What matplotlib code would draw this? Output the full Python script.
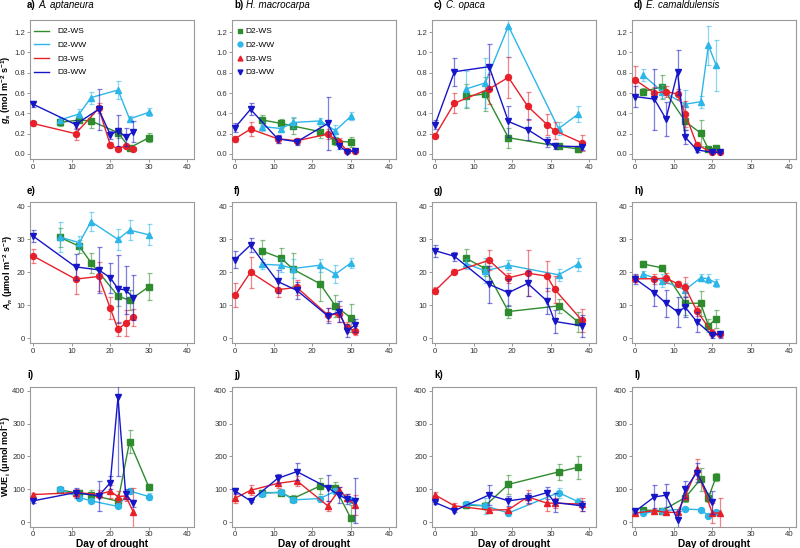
import numpy as np
import matplotlib
matplotlib.use("Agg")
import matplotlib.pyplot as plt
from matplotlib.lines import Line2D

plt.rcParams['font.family'] = ['Liberation Sans', 'DejaVu Sans']
plt.rcParams['mathtext.fontset'] = 'custom'
plt.rcParams['mathtext.rm'] = 'Liberation Sans:bold'
plt.rcParams['mathtext.it'] = 'Liberation Sans:bold:italic'
plt.rcParams['mathtext.bf'] = 'Liberation Sans:bold'

# ---------------- data ----------------
species = ["A. aptaneura", "H. macrocarpa", "C. opaca", "E. camaldulensis"]
treatments = ["D2-WS", "D2-WW", "D3-WS", "D3-WW"]
panel_letters = ["a)", "b)", "c)", "d)", "e)", "f)", "g)", "h)", "i)", "j)", "k)", "l)"]
x_ticks = [0, 10, 20, 30, 40]

# A. aptaneura
apt_d2ws_day = [7, 12, 15, 22, 25, 30]
apt_d2ws_gs = [0.31, 0.335, 0.325, 0.21, 0.06, 0.16]
apt_d2ws_gs_se = [0.03, 0.03, 0.07, 0.05, 0.02, 0.045]
apt_d2ws_an = [30.5, 27.8, 22.9, 12.8, 11.5, 15.6]
apt_d2ws_an_se = [3, 2, 3, 3, 3, 4]
apt_d2ws_wue = [98, 88, 83, 64, 245, 107]
apt_d2ws_wue_se = [5, 10, 15, 15, 35, 10]

apt_d2ww_day = [7, 12, 15, 22, 25, 30]
apt_d2ww_gs = [0.335, 0.395, 0.555, 0.63, 0.345, 0.41]
apt_d2ww_gs_se = [0.03, 0.045, 0.06, 0.09, 0.03, 0.04]
apt_d2ww_an = [30.6, 28.9, 35.3, 29.9, 32.7, 31.3]
apt_d2ww_an_se = [4.5, 2, 3, 3.2, 3, 3.2]
apt_d2ww_wue = [100, 75, 65, 48, 95, 78]
apt_d2ww_wue_se = [6, 8, 8, 6, 10, 10]

apt_d3ws_day = [0, 11, 17, 20, 22, 24, 26]
apt_d3ws_gs = [0.30, 0.20, 0.45, 0.09, 0.05, 0.08, 0.05]
apt_d3ws_gs_se = [0.025, 0.06, 0.05, 0.03, 0.02, 0.02, 0.02]
apt_d3ws_an = [24.9, 17.9, 18.7, 9.1, 2.7, 4.6, 6.3]
apt_d3ws_an_se = [2.1, 4.5, 4.5, 3.4, 2.1, 4, 2.7]
apt_d3ws_wue = [84, 90, 85, 94, 78, 80, 30]
apt_d3ws_wue_se = [6, 12, 12, 20, 18, 15, 75]

apt_d3ww_day = [0, 11, 17, 20, 22, 24, 26]
apt_d3ww_gs = [0.49, 0.29, 0.44, 0.19, 0.23, 0.165, 0.22]
apt_d3ww_gs_se = [0.03, 0.04, 0.2, 0.04, 0.15, 0.09, 0.1]
apt_d3ww_an = [30.9, 21.6, 20.7, 18.3, 15.0, 14.6, 12.3]
apt_d3ww_an_se = [1.8, 4, 7, 4.5, 10.3, 7.2, 6.8]
apt_d3ww_wue = [65, 90, 80, 120, 380, 85, 57]
apt_d3ww_wue_se = [6, 15, 45, 20, 240, 15, 12]

# H. macrocarpa
mac_d2ws_day = [7, 12, 15, 22, 26, 30]
mac_d2ws_gs = [0.335, 0.30, 0.275, 0.22, 0.13, 0.115]
mac_d2ws_gs_se = [0.045, 0.04, 0.08, 0.06, 0.04, 0.05]
mac_d2ws_an = [26.4, 24.2, 20.9, 16.5, 9.8, 6.2]
mac_d2ws_an_se = [3.2, 3, 5, 5.2, 3.2, 4.3]
mac_d2ws_wue = [90, 90, 72, 110, 103, 12]
mac_d2ws_wue_se = [8, 8, 10, 25, 18, 40]

mac_d2ww_day = [7, 12, 15, 22, 26, 30]
mac_d2ww_gs = [0.27, 0.25, 0.31, 0.325, 0.23, 0.37]
mac_d2ww_gs_se = [0.04, 0.03, 0.05, 0.03, 0.06, 0.04]
mac_d2ww_an = [22.4, 22.1, 21.1, 22.1, 19.4, 22.8]
mac_d2ww_an_se = [1.5, 2, 3, 2, 2.7, 1.5]
mac_d2ww_wue = [87, 92, 68, 72, 95, 67]
mac_d2ww_wue_se = [8, 8, 8, 8, 10, 8]

mac_d3ws_day = [0, 4, 11, 16, 24, 27, 29, 31]
mac_d3ws_gs = [0.15, 0.245, 0.15, 0.13, 0.195, 0.12, 0.03, 0.03]
mac_d3ws_gs_se = [0.03, 0.07, 0.04, 0.03, 0.05, 0.04, 0.01, 0.01]
mac_d3ws_an = [13.0, 20.0, 14.7, 15.4, 7.1, 7.3, 3.3, 2.3]
mac_d3ws_an_se = [3.6, 4.7, 2.3, 2.2, 2, 2.5, 1.5, 1.4]
mac_d3ws_wue = [73, 97, 118, 126, 50, 98, 75, 52]
mac_d3ws_wue_se = [15, 15, 15, 15, 15, 10, 10, 30]

mac_d3ww_day = [0, 4, 11, 16, 24, 27, 29, 31]
mac_d3ww_gs = [0.26, 0.44, 0.15, 0.12, 0.30, 0.08, 0.02, 0.03]
mac_d3ww_gs_se = [0.04, 0.06, 0.04, 0.03, 0.26, 0.03, 0.01, 0.01]
mac_d3ww_an = [23.8, 28.2, 17.2, 14.5, 6.8, 8.0, 2.3, 3.9]
mac_d3ww_an_se = [2.5, 2.2, 3.5, 2.5, 2.3, 3.2, 2, 2]
mac_d3ww_wue = [95, 65, 133, 154, 105, 82, 70, 65]
mac_d3ww_wue_se = [10, 5, 15, 25, 40, 25, 15, 68]

# C. opaca
opa_d2ws_day = [8, 13, 19, 32, 37]
opa_d2ws_gs = [0.57, 0.59, 0.16, 0.075, 0.05]
opa_d2ws_gs_se = [0.12, 0.17, 0.1, 0.02, 0.03]
opa_d2ws_an = [24.2, 21.1, 8.1, 9.8, 5.0]
opa_d2ws_an_se = [2.7, 2.3, 2, 2, 3]
opa_d2ws_wue = [52, 50, 115, 153, 167]
opa_d2ws_wue_se = [10, 10, 28, 25, 35]

opa_d2ww_day = [8, 13, 19, 32, 37]
opa_d2ww_gs = [0.64, 0.70, 1.26, 0.25, 0.39]
opa_d2ww_gs_se = [0.18, 0.25, 0.3, 0.06, 0.08]
opa_d2ww_an = [22.6, 20.4, 22.1, 19.2, 22.4]
opa_d2ww_an_se = [1.5, 3.8, 1.5, 1.9, 2]
opa_d2ww_wue = [55, 50, 28, 90, 63]
opa_d2ww_wue_se = [10, 25, 8, 15, 10]

opa_d3ws_day = [0, 5, 14, 19, 24, 29, 31, 38]
opa_d3ws_gs = [0.18, 0.50, 0.64, 0.755, 0.47, 0.29, 0.23, 0.11]
opa_d3ws_gs_se = [0.02, 0.1, 0.15, 0.2, 0.14, 0.1, 0.08, 0.08]
opa_d3ws_an = [14.4, 20.1, 23.6, 18.3, 19.7, 18.8, 14.8, 5.5]
opa_d3ws_an_se = [1, 0.8, 3, 1.5, 7, 4.5, 4, 3.5]
opa_d3ws_wue = [83, 50, 37, 38, 77, 58, 58, 55]
opa_d3ws_wue_se = [8, 8, 6, 8, 22, 25, 15, 20]

opa_d3ww_day = [0, 5, 14, 19, 24, 29, 31, 38]
opa_d3ww_gs = [0.29, 0.81, 0.86, 0.32, 0.24, 0.12, 0.08, 0.07]
opa_d3ww_gs_se = [0.04, 0.14, 0.22, 0.15, 0.1, 0.05, 0.03, 0.03]
opa_d3ww_an = [26.5, 24.8, 16.3, 13.8, 16.6, 11.3, 5.1, 3.8]
opa_d3ww_an_se = [1.8, 1.4, 5.5, 4, 3.8, 4, 3.6, 3.3]
opa_d3ww_wue = [60, 35, 83, 65, 73, 90, 60, 50]
opa_d3ww_wue_se = [6, 5, 30, 15, 15, 18, 30, 15]

# E. camaldulensis
cam_d2ws_day = [2, 7, 13, 17, 19, 21]
cam_d2ws_gs = [0.615, 0.66, 0.32, 0.205, 0.046, 0.056]
cam_d2ws_gs_se = [0.03, 0.12, 0.08, 0.13, 0.02, 0.02]
cam_d2ws_an = [22.5, 21.3, 10.6, 10.6, 3.8, 5.9]
cam_d2ws_an_se = [0.8, 0.8, 3.5, 3.8, 2, 2.7]
cam_d2ws_wue = [37, 35, 75, 131, 75, 138]
cam_d2ws_wue_se = [5, 5, 15, 35, 15, 12]

cam_d2ww_day = [2, 7, 13, 17, 19, 21]
cam_d2ww_gs = [0.78, 0.615, 0.49, 0.515, 1.07, 0.875]
cam_d2ww_gs_se = [0.06, 0.06, 0.14, 0.06, 0.19, 0.25]
cam_d2ww_an = [19.5, 17.4, 14.7, 18.3, 18.0, 16.7]
cam_d2ww_an_se = [1, 2, 2, 1, 1.4, 1.2]
cam_d2ww_wue = [27, 35, 40, 38, 20, 30]
cam_d2ww_wue_se = [5, 5, 5, 5, 5, 8]

cam_d3ws_day = [0, 5, 8, 11, 13, 16, 20, 22]
cam_d3ws_gs = [0.73, 0.60, 0.615, 0.59, 0.395, 0.09, 0.015, 0.015]
cam_d3ws_gs_se = [0.14, 0.06, 0.05, 0.05, 0.13, 0.03, 0.01, 0.01]
cam_d3ws_an = [18.0, 18.0, 18.2, 16.5, 15.4, 8.3, 1.7, 1.2]
cam_d3ws_an_se = [1, 1.5, 1.5, 0.8, 3, 1.5, 1, 0.8]
cam_d3ws_wue = [28, 35, 30, 30, 80, 161, 28, 28]
cam_d3ws_wue_se = [4, 5, 5, 5, 10, 30, 30, 45]

cam_d3ww_day = [0, 5, 8, 11, 13, 16, 20, 22]
cam_d3ww_gs = [0.565, 0.54, 0.345, 0.805, 0.165, 0.04, 0.016, 0.016]
cam_d3ww_gs_se = [0.1, 0.3, 0.17, 0.22, 0.07, 0.02, 0.01, 0.01]
cam_d3ww_an = [18.0, 13.8, 10.6, 8.0, 9.4, 5.0, 1.0, 1.2]
cam_d3ww_an_se = [1.5, 4, 4, 4.5, 3, 3, 0.8, 1]
cam_d3ww_wue = [33, 77, 82, 8, 100, 151, 60, np.nan]
cam_d3ww_wue_se = [6, 35, 35, 25, 25, 30, 35, np.nan]

# ---------------- style ----------------
colors = ["#2E8B2E", "#2DB6E8", "#E8202A", "#1616C8"]
markers_gs = ["s", "^", "o", "v"]      # rows 1-2
markers_wue = ["s", "o", "^", "v"]     # row 3 / legend b

g = globals()
sp_keys = ["apt", "mac", "opa", "cam"]
tr_keys = ["d2ws", "d2ww", "d3ws", "d3ww"]
var_keys = ["gs", "an", "wue"]

ylims = [(-0.05, 1.32), (-1.5, 41.3), (-13, 412)]
yticks = [[0.0, 0.2, 0.4, 0.6, 0.8, 1.0, 1.2], [0, 10, 20, 30, 40], [0, 100, 200, 300, 400]]
ytickfmt = ["{:.1f}", "{:d}", "{:d}"]
ylabels = [r"$g_s$ (mol m$^{-2}$ s$^{-1}$)",
           r"$A_n$ (μmol m$^{-2}$ s$^{-1}$)",
           r"WUE$_\mathrm{i}$ (μmol mol$^{-1}$)"]
ylabel_right_px = [13.5, 15, 13]

W, H = 800, 548
fig = plt.figure(figsize=(W / 100, H / 100), dpi=100)

lefts = [30, 232, 432, 632]
width = 164
rows_px = [(20, 159), (201.7, 343.3), (386.7, 526.5)]
title_dy = [12, 8, 9]

axes = []
for r in range(3):
    top, bot = rows_px[r]
    for c in range(4):
        ax = fig.add_axes([lefts[c] / W, 1 - bot / H, width / W, (bot - top) / H])
        axes.append(ax)
        for t in range(4):
            sp, tr, vk = sp_keys[c], tr_keys[t], var_keys[r]
            day = g[f"{sp}_{tr}_day"]
            val = g[f"{sp}_{tr}_{vk}"]
            se = g[f"{sp}_{tr}_{vk}_se"]
            mk = markers_gs[t] if r < 2 else markers_wue[t]
            ax.errorbar(day, val, yerr=se, fmt='none', ecolor=colors[t], alpha=0.55,
                        elinewidth=0.9, capsize=1.8, capthick=0.9, zorder=2 + t)
            ax.plot(day, val, color=colors[t], lw=1.0, marker=mk, ms=4.3,
                    mec=colors[t], mfc=colors[t], zorder=3 + t)
        ax.set_xlim(-0.8, 41.7)
        ax.set_ylim(*ylims[r])
        ax.set_xticks(x_ticks)
        ax.set_xticklabels([str(v) for v in x_ticks])
        ax.set_yticks(yticks[r])
        ax.set_yticklabels([ytickfmt[r].format(v) for v in yticks[r]])
        ax.tick_params(axis='both', labelsize=5.6, colors='#888888', labelcolor='#333333',
                       length=2.5, width=0.6, pad=1.0, direction='out')
        for s in ax.spines.values():
            s.set_color('#9a9a9a')
            s.set_linewidth(0.8)
        if c == 0:
            ax.set_ylabel(ylabels[r], fontsize=6.5, fontweight='bold')
            ax.yaxis.set_label_coords((ylabel_right_px[r] - lefts[0]) / width, 0.5)
        if r == 2:
            ax.set_xlabel("Day of drought", fontsize=7.3, fontweight='bold', labelpad=0.5)
        # panel title
        idx = r * 4 + c
        t1 = ax.annotate(panel_letters[idx], xy=(0, 1), xycoords='axes fraction',
                         xytext=(-3 if c == 0 else 2, title_dy[r]), textcoords='offset pixels',
                         fontsize=7, fontweight='bold', va='baseline', ha='left')
        if r == 0:
            ax.annotate(species[c], xy=(1, 0), xycoords=t1, xytext=(3, 0),
                        textcoords='offset pixels', fontsize=7, style='italic',
                        va='bottom', ha='left')

# legends
h_lines = [Line2D([], [], color=colors[t], lw=1.0) for t in range(4)]
axes[0].legend(h_lines, treatments, loc='upper left', bbox_to_anchor=(0.0, 0.975),
               frameon=False, fontsize=6, handlelength=1.8, handletextpad=1.0,
               labelspacing=0.7, borderaxespad=0.1)
h_marks = [Line2D([], [], ls='none', marker=markers_wue[t], color=colors[t], ms=3.5) for t in range(4)]
axes[1].legend(h_marks, treatments, loc='upper left', bbox_to_anchor=(0.0, 0.975),
               frameon=False, fontsize=6, handlelength=0.8, handletextpad=0.3,
               labelspacing=0.7, borderaxespad=0.1)

fig.savefig("out.png", dpi=100)
